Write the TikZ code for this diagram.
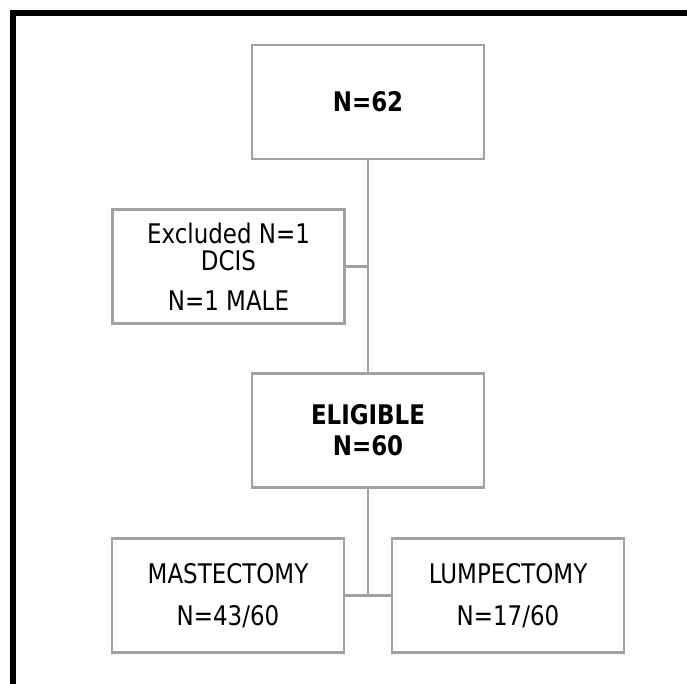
\documentclass[tikz,border=0pt]{standalone}
\usepackage{fontspec}
\setmainfont{DejaVu Sans}[FakeStretch=0.85]
\usetikzlibrary{positioning}
\begin{document}
\begin{tikzpicture}
[x=1pt, y=-1pt,
 box/.style={draw=black!37, line width=2.8pt, minimum width=232pt, minimum height=114pt, inner sep=0pt, align=center, font=\fontsize{27}{27}\selectfont},
 link/.style={draw=black!37, line width=2.8pt}]
\useasboundingbox (0,0) rectangle (687,684);
\draw [line width=6pt, line join=miter] (13,684) -- (13,13) -- (687,13);
\node [box] (total) at (368,102) {\textbf{N=62}};
\node [box] (excluded) at (228.5,266.5) {Excluded N=1\\DCIS\\[13pt]N=1 MALE};
\node [box, font=\fontsize{27}{31}\selectfont] (eligible) at (368,430.5) {\textbf{ELIGIBLE}\\\textbf{N=60}};
\node [box, font=\fontsize{27}{42}\selectfont] (mastectomy) at (228,595.5) {MASTECTOMY\\N=43/60};
\node [box, font=\fontsize{27}{42}\selectfont] (lumpectomy) at (508,595.5) {LUMPECTOMY\\N=17/60};
\draw [link] (total.south) -- (eligible.north);
\draw [link] (excluded.east) -- (total.south |- excluded.east);
\draw [link] (eligible.south) -- (eligible.south |- mastectomy.east);
\draw [link] (mastectomy.east) -- (lumpectomy.west);
\end{tikzpicture}
\end{document}
